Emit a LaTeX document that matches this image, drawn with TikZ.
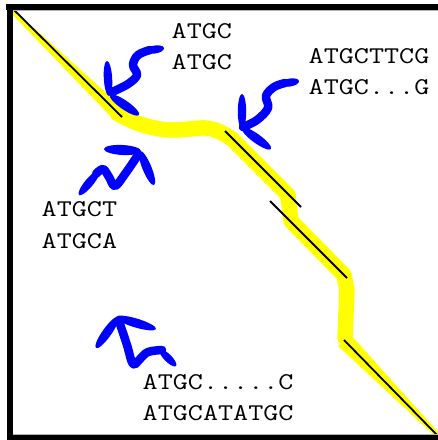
\documentclass[tikz,border=0pt]{standalone}
\usepackage{fontspec}
\usepackage{graphicx}
\definecolor{brushblue}{RGB}{0,0,255}
\definecolor{hiyellow}{RGB}{255,255,0}
\newcommand\seqtxt[1]{\scalebox{1.22}[1]{#1}}
\newcommand\brushlens[5]{%
  \pgfmathsetmacro\blx{(#1+#3)/2}%
  \pgfmathsetmacro\bly{-(#2+#4)/2}%
  \pgfmathsetmacro\bla{atan2(#2-#4,#3-#1)}%
  \pgfmathsetmacro\blr{veclen(#3-#1,#4-#2)/2}%
  \fill[brushblue] (\blx,\bly) circle[x radius=\blr, y radius=#5, rotate=\bla];}
\begin{document}
\begin{tikzpicture}[x=1pt,y=1pt,
  seq/.style={anchor=base west, inner sep=0pt, font=\ttfamily\fontsize{24}{30}\selectfont},
  shaft/.style={draw=brushblue, line width=8.5pt, line cap=round, line join=round},
  hilite/.style={draw=hiyellow, line width=15.5pt, line cap=round, line join=round},
  hifill/.style={fill=hiyellow},
  match/.style={draw=black, line width=1.8pt},
  frameband/.style={fill=black}]
\useasboundingbox (0,0) rectangle (438,-440);
% yellow alignment path
\fill[hifill] (14,-10) -- (123,-108) -- (113,-119) -- (11,-13) -- cycle;
\draw[hilite] plot[smooth, tension=0.6] coordinates {(118,-114) (128,-119) (140,-124) (155,-128) (170,-130) (190,-129) (205,-128) (218,-131) (232,-139)}
  -- (288,-195) -- (291,-221) -- (344,-275) -- (347,-290) -- (345,-338);
\fill[hifill] (350,-334) -- (438,-432) -- (436,-437) -- (338,-346) -- cycle;
% black match segments
\draw[match] (14,-10) -- (122,-117);
\draw[match] (225,-131) -- (301,-207);
\draw[match] (270,-201) -- (347,-278);
\draw[match] (344,-340) -- (437,-435);
% frame
\fill[frameband] (6,-4) rectangle (438,-9.5);
\fill[frameband] (7,-4) rectangle (13,-440);
\fill[frameband] (7,-434.5) rectangle (438,-440);
\draw[gray!60, line width=0.8pt] (13,-10.2) -- (438,-10.2);
\draw[gray!60, line width=0.8pt] (13,-434) -- (438,-434);
% arrow 1
\draw[shaft] plot[smooth, tension=0.6] coordinates {(112,-92) (128,-84) (137,-75) (133,-65) (138,-55) (150,-50)};
\brushlens{146}{51}{164}{48}{4}
\brushlens{109}{96}{107}{61}{4.2}
\brushlens{110}{95}{139}{115}{4.5}
% arrow 2
\draw[shaft] plot[smooth, tension=0.6] coordinates {(243,-127) (257,-120) (268,-108) (266,-96) (274,-87) (285,-83)};
\brushlens{281}{84}{299}{81}{4}
\brushlens{242}{129}{242}{94}{4.2}
\brushlens{242}{128}{271}{149}{4.5}
% arrow 3
\draw[shaft] plot[smooth, tension=0.6] coordinates {(138,-155) (125,-174) (115,-186) (109,-177) (103,-169) (96,-174)};
\brushlens{99}{171}{79}{195}{4.2}
\brushlens{141}{151}{104}{149}{5}
\brushlens{140}{151}{154}{185}{4.5}
% arrow 4
\draw[shaft] plot[smooth, tension=0.6] coordinates {(120,-324) (127,-345) (133,-364) (140,-359) (148,-352) (162,-350)};
\brushlens{160}{350}{176}{366}{3.8}
\brushlens{116}{317}{156}{329}{4.5}
\brushlens{118}{317}{96}{348}{4.5}
% texts
\node[seq] (t1a) at (171.5,-38) {\seqtxt{ATGC}};
\node[seq] (t1b) at (171.5,-69) {\seqtxt{ATGC}};
\node[seq] (t2a) at (308.5,-63.5) {\seqtxt{ATGCTTCG}};
\node[seq] (t2b) at (308.5,-94.5) {\seqtxt{ATGC...G}};
\node[seq] (t3a) at (41.5,-216) {\seqtxt{ATGCT}};
\node[seq] (t3b) at (41.5,-248) {\seqtxt{ATGCA}};
\node[seq] (t4a) at (142.5,-389) {\seqtxt{ATGC.....C}};
\node[seq] (t4b) at (142.5,-420) {\seqtxt{ATGCATATGC}};
\end{tikzpicture}
\end{document}
